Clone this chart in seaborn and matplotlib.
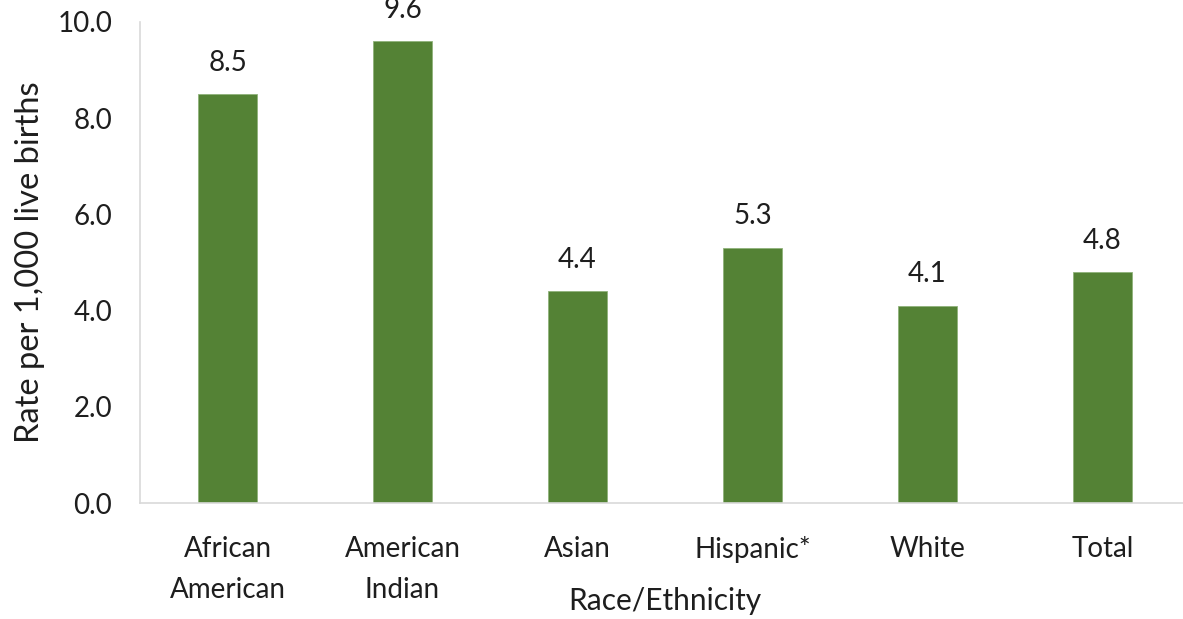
import matplotlib
matplotlib.use("Agg")
import matplotlib.pyplot as plt
import seaborn as sns
import pandas as pd

categories = ["African\nAmerican", "American\nIndian", "Asian", "Hispanic*", "White", "Total"]
rates = [8.5, 9.6, 4.4, 5.3, 4.1, 4.8]
y_ticks = [0, 2, 4, 6, 8, 10]

sns.set_theme(style="white")
plt.rcParams["font.family"] = ["Lato", "DejaVu Sans"]

TEXT = "#1e1e1e"
df = pd.DataFrame({"group": categories, "rate": rates})

W, H = 1183, 619
fig = plt.figure(figsize=(W / 100, H / 100), dpi=100)
ax = fig.add_axes([140 / W, (H - 503) / H, 1050 / W, 481 / H])

sns.barplot(data=df, x="group", y="rate", color="#548235", width=0.34,
            saturation=1, edgecolor="#8fb27a", linewidth=0.6, ax=ax)

ax.set_ylim(0, 10)
ax.set_xlim(-0.5, len(categories) - 0.5)
ax.set_yticks(y_ticks)
ax.set_yticklabels([f"{t:.1f}" for t in y_ticks])
ax.tick_params(axis="both", length=0, labelsize=20, colors=TEXT)
ax.tick_params(axis="y", pad=20)
ax.tick_params(axis="x", pad=24)
for lbl in ax.get_xticklabels():
    lbl.set_linespacing(1.72)

for s in ["top", "right"]:
    ax.spines[s].set_visible(False)
for s in ["left", "bottom"]:
    ax.spines[s].set_color("#d9d9d9")
    ax.spines[s].set_linewidth(1.2)

for i, v in enumerate(rates):
    ax.annotate(f"{v:.1f}", (i, v), xytext=(0, 17), textcoords="offset points",
                ha="center", va="baseline", fontsize=20, color=TEXT,
                annotation_clip=False)

ax.set_xlabel("Race/Ethnicity", fontsize=21.5, color=TEXT)
ax.xaxis.set_label_coords(0.5, (503 - 601) / 481)
ax.xaxis.label.set_va("center")

ax.set_ylabel("Rate per 1,000 live births", fontsize=23.5, color=TEXT)
ax.yaxis.set_label_coords((30 - 140) / 1050, (503 - 262) / 481)
ax.yaxis.label.set_va("center")

fig.savefig("out.png", dpi=100)
